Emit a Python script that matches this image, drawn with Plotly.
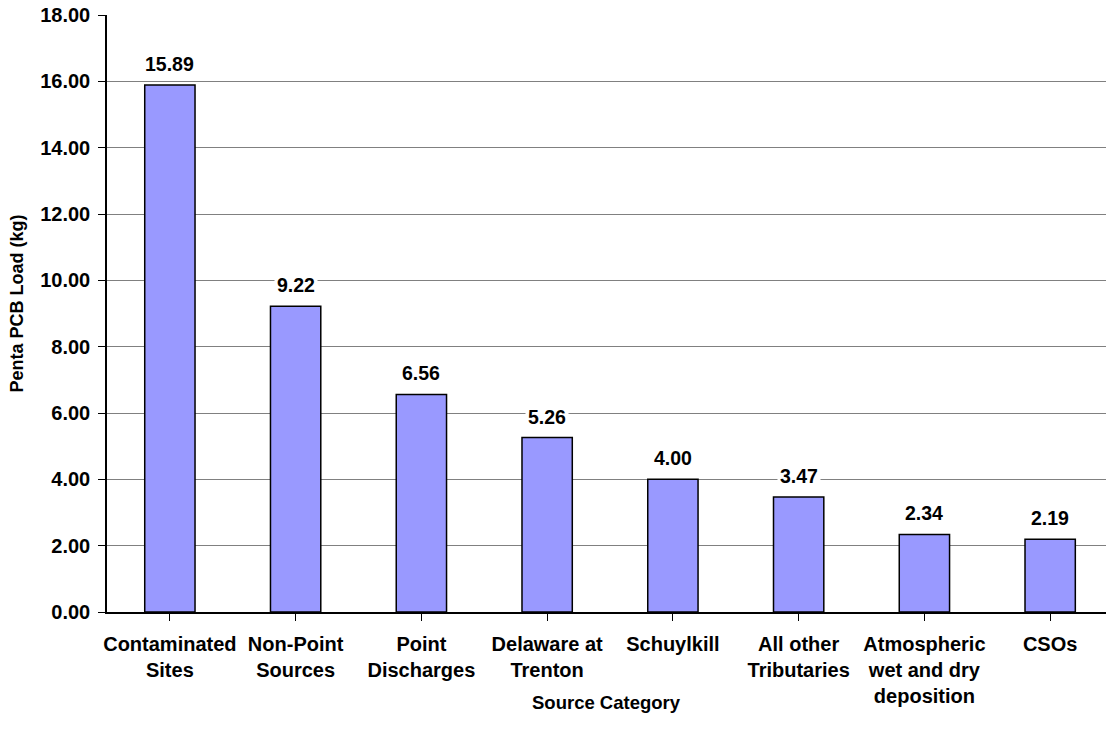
import plotly.graph_objects as go

categories = ["Contaminated<br>Sites", "Non-Point<br>Sources", "Point<br>Discharges",
              "Delaware at<br>Trenton", "Schuylkill", "All other<br>Tributaries",
              "Atmospheric<br>wet and dry<br>deposition", "CSOs"]
values = [15.89, 9.22, 6.56, 5.26, 4.00, 3.47, 2.34, 2.19]
y_ticks = [0, 2, 4, 6, 8, 10, 12, 14, 16, 18]

FONT = "Arial, 'Liberation Sans', sans-serif"

fig = go.Figure()
fig.add_trace(go.Bar(
    x=list(range(len(categories))), y=values, width=0.4,
    marker=dict(color="#9999FF", line=dict(color="black", width=1.5)),
))

for i, v in enumerate(values):
    fig.add_annotation(x=i, y=v, text=f"<b>{v:.2f}</b>", showarrow=False,
                       yanchor="middle", yshift=21, bgcolor="white", borderpad=2,
                       font=dict(family=FONT, size=19.5, color="black"))

# axis titles (positions in paper fractions of the plot area)
fig.add_annotation(x=0.5, y=-0.151, xref="paper", yref="paper", yanchor="middle",
                   text="<b>Source Category</b>", showarrow=False,
                   font=dict(family=FONT, size=18.5, color="black"))
fig.add_annotation(x=-0.0905, y=0.516, xref="paper", yref="paper", xanchor="center",
                   yanchor="middle", textangle=-90,
                   text="<b>Penta PCB Load (kg)</b>", showarrow=False,
                   font=dict(family=FONT, size=18, color="black"))

fig.update_layout(
    width=1106, height=744,
    margin=dict(l=107, r=0, t=15, b=132, autoexpand=False),
    paper_bgcolor="white", plot_bgcolor="white",
    showlegend=False,
    font=dict(family=FONT, color="black"),
    xaxis=dict(
        range=[-0.5, 7.444],
        tickmode="array", tickvals=list(range(len(categories))),
        ticktext=[f"<b>{c}</b>" for c in categories],
        tickson="boundaries",
        ticks="outside", ticklen=7, tickcolor="black", tickwidth=1,
        showline=True, linecolor="black", linewidth=1.5,
        showgrid=False, zeroline=False, automargin=False,
        tickfont=dict(family=FONT, size=20, color="black"),
        ticklabelstandoff=6,
    ),
    yaxis=dict(
        range=[0, 18.001],
        tickmode="array", tickvals=y_ticks,
        ticktext=[f"<b>{t:.2f}</b>" for t in y_ticks],
        ticks="outside", ticklen=7, tickcolor="black", tickwidth=1,
        showline=True, linecolor="black", linewidth=1.5,
        showgrid=True, gridcolor="#808080", gridwidth=1,
        zeroline=False, automargin=False,
        tickfont=dict(family=FONT, size=20, color="black"),
        ticklabelstandoff=4,
    ),
)

fig.write_html("out.html",
               config={"displayModeBar": False},
               post_script="document.body.style.margin='0';document.body.style.overflow='hidden';")
